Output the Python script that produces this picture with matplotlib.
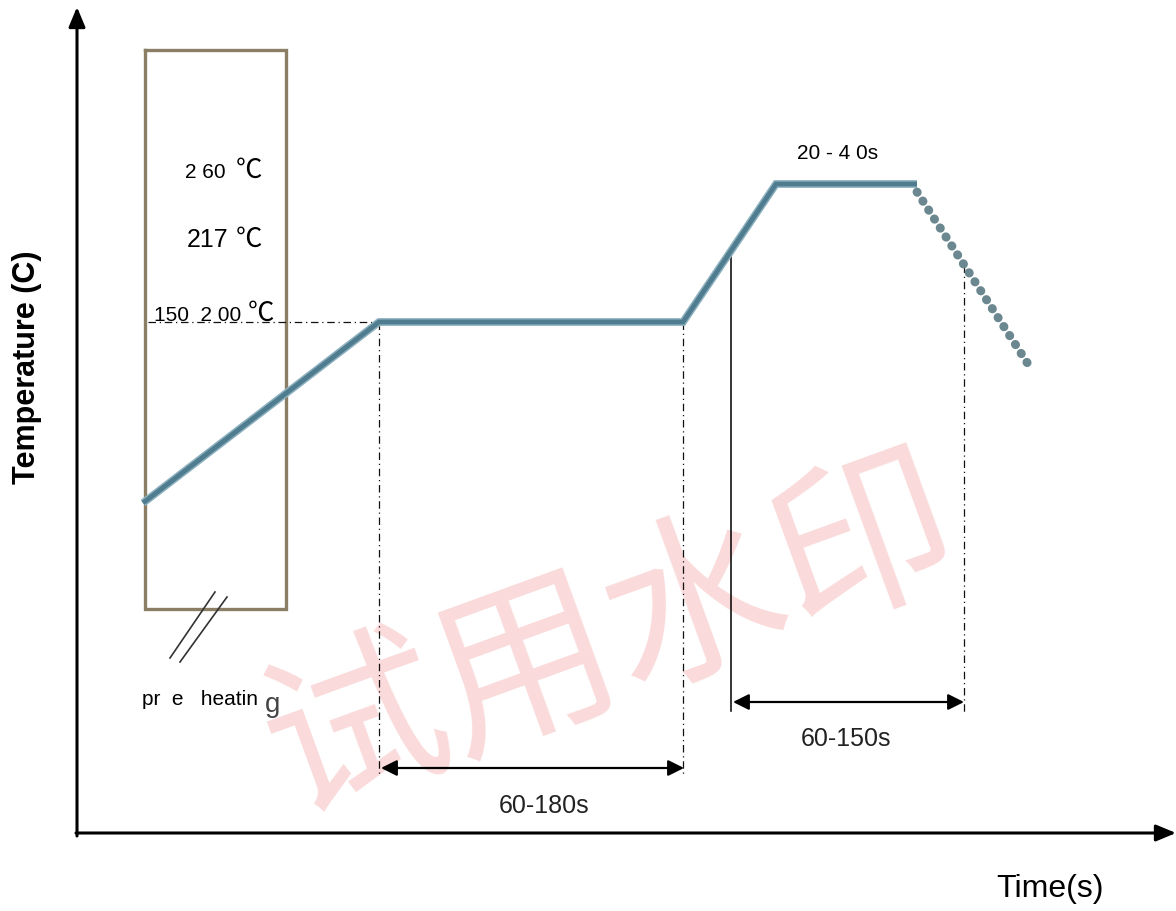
import matplotlib.pyplot as plt

plt.rcParams['font.family'] = ['Liberation Sans', 'Noto Sans CJK SC', 'DejaVu Sans']

# Schematic reflow profile, drawn in picture units (x right, y down)
profile_x = [143, 379, 683, 776, 917]
profile_y = [503, 322, 322, 184, 184]

cooling_x = [917, 1028]
cooling_y = [192, 364]

box_x = [145, 286, 286, 145, 145]
box_y = [50, 50, 609, 609, 50]

# guide lines: (x0, y0, x1, y1)
dashdot_lines = [
    (148, 322, 379, 322),
    (379, 322, 379, 776),
    (683, 322, 683, 776),
    (964, 265, 964, 712),
]
solid_guide = (731, 255, 731, 711)

# span arrows: (x0, x1, y, label, label_x, label_y)
spans = [
    (381, 684, 768, "60-180s", 544, 813),
    (733, 964, 702, "60-150s", 846, 746),
]

break_marks = [((170, 658), (215, 592)), ((180, 662), (227, 597))]

fig = plt.figure(figsize=(11.76, 9.11), dpi=100)
ax = fig.add_axes([0, 0, 1, 1])
ax.set_xlim(0, 1176)
ax.set_ylim(911, 0)
ax.axis('off')

# watermark
ax.text(612, 640, "试用水印", fontsize=130, color='#FADADA', rotation=20,
        ha='center', va='center', family=['Noto Sans CJK SC'], zorder=0)

# axes with arrows
ax.annotate('', xy=(77, 7), xytext=(77, 836),
            arrowprops=dict(arrowstyle='-|>,head_length=0.6,head_width=0.25',
                            color='black', lw=2.2, mutation_scale=20,
                            shrinkA=0, shrinkB=0))
ax.annotate('', xy=(1176, 833), xytext=(76, 833),
            arrowprops=dict(arrowstyle='-|>,head_length=0.6,head_width=0.25',
                            color='black', lw=2.2, mutation_scale=20,
                            shrinkA=0, shrinkB=0))

ax.text(27, 367, "Temperature (C)", fontsize=22, fontweight='bold',
        rotation=90, ha='center', va='center')
ax.text(1050, 897, "Time(s)", fontsize=23, ha='center', va='baseline')

# pre-heating box
ax.plot(box_x, box_y, color='#8B7E64', lw=2.4, solid_joinstyle='miter', zorder=2)

for (p0, p1) in break_marks:
    ax.plot([p0[0], p1[0]], [p0[1], p1[1]], color='#333333', lw=1.2)

# guide lines
for x0, y0, x1, y1 in dashdot_lines:
    ax.plot([x0, x1], [y0, y1], color='#111111', lw=0.9,
            linestyle=(0, (6, 3, 1, 3)), zorder=3)
ax.plot([solid_guide[0], solid_guide[2]], [solid_guide[1], solid_guide[3]],
        color='black', lw=1.1, zorder=3)

# profile
ax.plot(profile_x, profile_y, color='#8DB0BF', lw=5.6, solid_joinstyle='miter',
        solid_capstyle='butt', zorder=4)
ax.plot(profile_x, profile_y, color='#4F7D8F', lw=3.4, solid_joinstyle='miter',
        solid_capstyle='butt', zorder=5)
ax.plot(cooling_x, cooling_y, color='#6B8790', lw=6.4,
        linestyle=(0, (0.05, 1.15)), dash_capstyle='round', zorder=5)

# span arrows
for x0, x1, y, label, lx, ly in spans:
    ax.annotate('', xy=(x1, y), xytext=(x0, y),
                arrowprops=dict(arrowstyle='<|-|>,head_length=0.6,head_width=0.3',
                                color='black', lw=1.6, mutation_scale=16,
                                shrinkA=0, shrinkB=0), zorder=6)
    ax.text(lx, ly, label, fontsize=18, ha='center', va='baseline', color='#222222')

# temperature labels inside the box
ax.text(185, 178, "2 60", fontsize=15, va='baseline')
ax.text(236, 178, "℃", fontsize=19, va='baseline')
ax.text(187, 247, "217", fontsize=18, va='baseline')
ax.text(236, 247, "℃", fontsize=19, va='baseline')
ax.text(154, 321, "150  2 00", fontsize=15, va='baseline')
ax.text(248, 321, "℃", fontsize=19, va='baseline')

ax.text(797, 159, "20 - 4 0s", fontsize=15, va='baseline')

ax.text(142, 705, "pr  e   heatin", fontsize=15, va='baseline')
ax.text(265, 712, "g", fontsize=20, va='baseline', color='#444444')

fig.savefig('out.png', dpi=100)
